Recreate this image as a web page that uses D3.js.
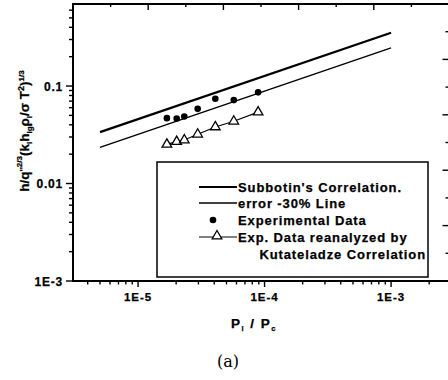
<!DOCTYPE html>
<html>
<head>
<meta charset="utf-8">
<script src="https://cdn.jsdelivr.net/npm/d3@7"></script>
<style>
body { margin: 0; background: #fff; }
text { font-family: "Liberation Sans", Arial, sans-serif; font-weight: bold; fill: #000; stroke: #000; stroke-width: 0.25px; }
</style>
</head>
<body>
<div id="chart"></div>
<script>
// values
const pressureRatio = [1.69e-5, 2.02e-5, 2.32e-5, 2.96e-5, 4.08e-5, 5.71e-5, 8.89e-5];
const experimental = [0.0468, 0.0465, 0.0487, 0.0583, 0.0740, 0.0717, 0.0861];
const reanalyzed = [0.0252, 0.0269, 0.0279, 0.0320, 0.0380, 0.0435, 0.0540];
const corrX = [5e-6, 1e-3];
const subbotin = [0.0336, 0.352];
const errorLine = [0.0235, 0.246];
const xTickVals = [1e-5, 1e-4, 1e-3];
const xTickLabels = ["1E-5", "1E-4", "1E-3"];
const yTickVals = [1e-3, 1e-2, 1e-1];
const yTickLabels = ["1E-3", "0.01", "0.1"];
const legendLabels = ["Subbotin's Correlation.", "error -30% Line", "Experimental Data", "Exp. Data reanalyzed by", "Kutateladze Correlation"];

const width = 448, height = 380;
const pLeft = 73, pRight = 449, pTop = 4, pBottom = 281;

const svg = d3.select("#chart").append("svg")
    .attr("width", width)
    .attr("height", height)
    .attr("viewBox", [0, 0, width, height]);

const x = d3.scaleLog().domain([3.06e-6, 2.87e-3]).range([pLeft, pRight]);
const y = d3.scaleLog().domain([1e-3, 0.694]).range([pBottom, pTop]);
// unlabelled secondary axes on top / right
const xTop = d3.scaleLinear().domain([0, 5]).range([pLeft, pRight]);
const yRight = d3.scaleLinear().domain([0, 5]).range([pBottom, pTop]);

const isMajor = v => Math.abs(Math.log10(v) - Math.round(Math.log10(v))) < 1e-6;
const xMinor = x.ticks().filter(v => !isMajor(v));
const yMinor = y.ticks().filter(v => !isMajor(v));

// frame
svg.append("path")
    .attr("d", `M${pLeft},${pBottom}V${pTop}H${pRight}V${pBottom}Z`)
    .attr("fill", "none").attr("stroke", "#000").attr("stroke-width", 2);

function drawTicks(vals, pos, horiz, at, len, cls) {
    svg.selectAll("line." + cls).data(vals).join("line").attr("class", cls)
        .attr("x1", d => horiz ? pos(d) : at)
        .attr("x2", d => horiz ? pos(d) : at + len)
        .attr("y1", d => horiz ? at : pos(d))
        .attr("y2", d => horiz ? at + len : pos(d))
        .attr("stroke", "#000").attr("stroke-width", 1.4);
}
drawTicks(xMinor, x, true, pBottom, 3.5, "bmin");
drawTicks(xTickVals, x, true, pBottom, 6, "bmaj");
drawTicks(yMinor, y, false, pLeft, -4, "lmin");
drawTicks(yTickVals, y, false, pLeft, -7, "lmaj");
drawTicks(xTop.ticks(10).filter(v => v % 1 !== 0), xTop, true, pTop, 3, "tmin");
drawTicks(xTop.ticks(5), xTop, true, pTop, 6, "tmaj");
drawTicks(yRight.ticks(10).filter(v => v % 1 !== 0), yRight, false, pRight, -3.5, "rmin");
drawTicks(yRight.ticks(5), yRight, false, pRight, -6.5, "rmaj");

svg.selectAll(".xlab").data(xTickVals).join("text").attr("class", "xlab")
    .attr("x", d => x(d)).attr("y", pBottom + 20)
    .attr("text-anchor", "middle")
    .attr("font-size", 11.5).attr("letter-spacing", 1)
    .text((d, i) => xTickLabels[i]);
svg.selectAll(".ylab").data(yTickVals).join("text").attr("class", "ylab")
    .attr("x", pLeft - 10).attr("y", d => y(d) + 4.5)
    .attr("text-anchor", "end")
    .attr("font-size", 12).attr("letter-spacing", 0.8)
    .text((d, i) => yTickLabels[i]);

// correlation lines
const line = d3.line().x(d => x(d[0])).y(d => y(d[1]));
svg.append("path").datum(d3.zip(corrX, subbotin))
    .attr("d", line).attr("fill", "none").attr("stroke", "#000").attr("stroke-width", 2.3);
svg.append("path").datum(d3.zip(corrX, errorLine))
    .attr("d", line).attr("fill", "none").attr("stroke", "#000").attr("stroke-width", 1.5);

// experimental points
svg.selectAll(".exp").data(d3.zip(pressureRatio, experimental)).join("circle").attr("class", "exp")
    .attr("cx", d => x(d[0])).attr("cy", d => y(d[1]))
    .attr("r", 3.3).attr("fill", "#000");

// reanalyzed data
const tri = d3.symbol().type(d3.symbolTriangle).size(40);
svg.append("path").datum(d3.zip(pressureRatio, reanalyzed))
    .attr("d", line).attr("fill", "none").attr("stroke", "#000").attr("stroke-width", 1.1);
svg.selectAll(".tri").data(d3.zip(pressureRatio, reanalyzed)).join("path").attr("class", "tri")
    .attr("transform", d => `translate(${x(d[0])},${y(d[1])})`)
    .attr("d", tri).attr("fill", "#fff").attr("stroke", "#000").attr("stroke-width", 1.3);

// legend
const lg = svg.append("g");
lg.append("rect").attr("x", 157).attr("y", 162).attr("width", 271).attr("height", 115)
    .attr("fill", "#fff").attr("stroke", "#000").attr("stroke-width", 1.5);
const rows = [187, 203, 220, 237, 254];
lg.append("line").attr("x1", 199).attr("x2", 237).attr("y1", rows[0]).attr("y2", rows[0])
    .attr("stroke", "#000").attr("stroke-width", 2);
lg.append("line").attr("x1", 199).attr("x2", 237).attr("y1", rows[1]).attr("y2", rows[1])
    .attr("stroke", "#000").attr("stroke-width", 1.3);
lg.append("circle").attr("cx", 213).attr("cy", rows[2]).attr("r", 3.3).attr("fill", "#000");
lg.append("line").attr("x1", 199).attr("x2", 237).attr("y1", rows[3]).attr("y2", rows[3])
    .attr("stroke", "#000").attr("stroke-width", 1.1);
lg.append("path").attr("transform", `translate(217,${rows[3] - 1})`).attr("d", tri)
    .attr("fill", "#fff").attr("stroke", "#000").attr("stroke-width", 1.3);
lg.selectAll(".lt").data(legendLabels).join("text").attr("class", "lt")
    .attr("x", (d, i) => i === 4 ? 426 : 238)
    .attr("y", (d, i) => rows[i] + 5)
    .attr("text-anchor", (d, i) => i === 4 ? "end" : "start")
    .attr("font-size", 13).attr("letter-spacing", 0.9)
    .text(d => d);

// axis titles
const xt = svg.append("text").attr("x", 254).attr("y", 328).attr("text-anchor", "middle")
    .attr("font-size", 13.5).attr("letter-spacing", 1.5);
xt.append("tspan").text("P");
xt.append("tspan").attr("font-size", 7.5).attr("dy", 3).text("l");
xt.append("tspan").attr("dy", -3).text(" / P");
xt.append("tspan").attr("font-size", 7.5).attr("dy", 3).text("c");

const yt = svg.append("text").attr("transform", "translate(29,131) rotate(-90)")
    .attr("text-anchor", "middle").attr("font-size", 13.5);
const parts = [
    ["h/q", 0], ["''", -3, 9], ["2/3", -4, 8], ["(k", 7], ["l", 3, 8], ["h", -3], ["lg", 3, 8],
    ["\u03c1", -3], ["l", 3, 8], ["/\u03c3 T", -3], ["2", -5, 9], [")", 5], ["1/3", -5, 8]
];
parts.forEach(p => {
    const t = yt.append("tspan").attr("dy", p[1]).text(p[0]);
    if (p[2]) t.attr("font-size", p[2]);
});

svg.append("text").attr("x", 228).attr("y", 367).attr("text-anchor", "middle")
    .style("font-family", "'DejaVu Serif', serif").style("font-weight", "normal").style("stroke", "none")
    .attr("font-size", 16).text("(a)");
</script>
</body>
</html>
